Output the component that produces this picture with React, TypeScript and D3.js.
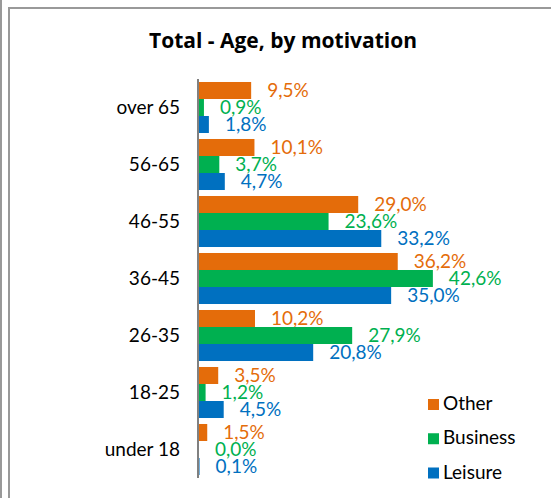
import React from "react";
import * as d3 from "d3";

const categories = ["over 65", "56-65", "46-55", "36-45", "26-35", "18-25", "under 18"];
const seriesNames = ["Other", "Business", "Leisure"];
const other = [9.5, 10.1, 29.0, 36.2, 10.2, 3.5, 1.5];
const business = [0.9, 3.7, 23.6, 42.6, 27.9, 1.2, 0.0];
const leisure = [1.8, 4.7, 33.2, 35.0, 20.8, 4.5, 0.1];

const colors = ["#E46C0A", "#00B050", "#0070C0"];
const titleFont = "'Open Sans', 'Noto Sans', sans-serif";
const font = "Lato, 'Open Sans', sans-serif";

const width = 551;
const height = 498;

const fmt = (v: number) => v.toFixed(1).replace(".", ",") + "%";

const App: React.FC = () => {
    const values = [other, business, leisure];

    // scales
    const x = d3.scaleLinear().domain([0, 50]).range([199, 473.5]);
    const y = d3
        .scaleBand()
        .domain(categories)
        .range([79, 478])
        .paddingInner(0.105)
        .paddingOuter(0.0525);
    const ySub = d3.scaleBand().domain(seriesNames).range([0, y.bandwidth()]);

    const legendY = d3.scalePoint().domain(seriesNames).range([399, 467.5]);

    return (
        <svg
            width={width}
            height={height}
            style={{ position: "absolute", left: 0, top: 0, background: "#fff" }}
        >
            {/* frame */}
            <line x1={1} x2={1} y1={0} y2={height} stroke="#999" strokeWidth={2} />
            <line x1={9} x2={9} y1={8} y2={height} stroke="#999" strokeWidth={2} />
            <line x1={8} x2={width} y1={8} y2={8} stroke="#999" strokeWidth={2} />

            <text
                x={283}
                y={47.5}
                textAnchor="middle"
                fontFamily={titleFont}
                fontWeight="bold"
                fontSize={21}
                fill="#000"
            >
                Total - Age, by motivation
            </text>

            {/* bars */}
            {categories.map((c, i) => (
                <g key={c} transform={`translate(0, ${y(c)})`}>
                    {seriesNames.map((s, j) => {
                        const v = values[j][i];
                        const y0 = ySub(s) as number;
                        return (
                            <g key={s}>
                                <rect
                                    x={x(0)}
                                    y={y0}
                                    width={x(v) - x(0)}
                                    height={ySub.bandwidth()}
                                    fill={colors[j]}
                                />
                                <text
                                    x={x(v) + 16}
                                    y={y0 + ySub.bandwidth() / 2 + 6.7}
                                    fontFamily={font}
                                    fontSize={19}
                                    fill={colors[j]}
                                >
                                    {fmt(v)}
                                </text>
                            </g>
                        );
                    })}
                    <text
                        x={180}
                        y={y.bandwidth() / 2 + 6.2}
                        textAnchor="end"
                        fontFamily={font}
                        fontSize={19}
                        fill="#000"
                    >
                        {c}
                    </text>
                </g>
            ))}

            {/* axis line */}
            <line x1={198} x2={198} y1={79} y2={478} stroke="#808080" strokeWidth={2} />

            {/* legend */}
            {seriesNames.map((s, j) => (
                <g key={s} transform={`translate(428, ${legendY(s)})`}>
                    <rect width={11} height={11} fill={colors[j]} />
                    <text x={15} y={11} fontFamily={font} fontSize={19} fill="#000">
                        {s}
                    </text>
                </g>
            ))}
        </svg>
    );
};

export default App;
